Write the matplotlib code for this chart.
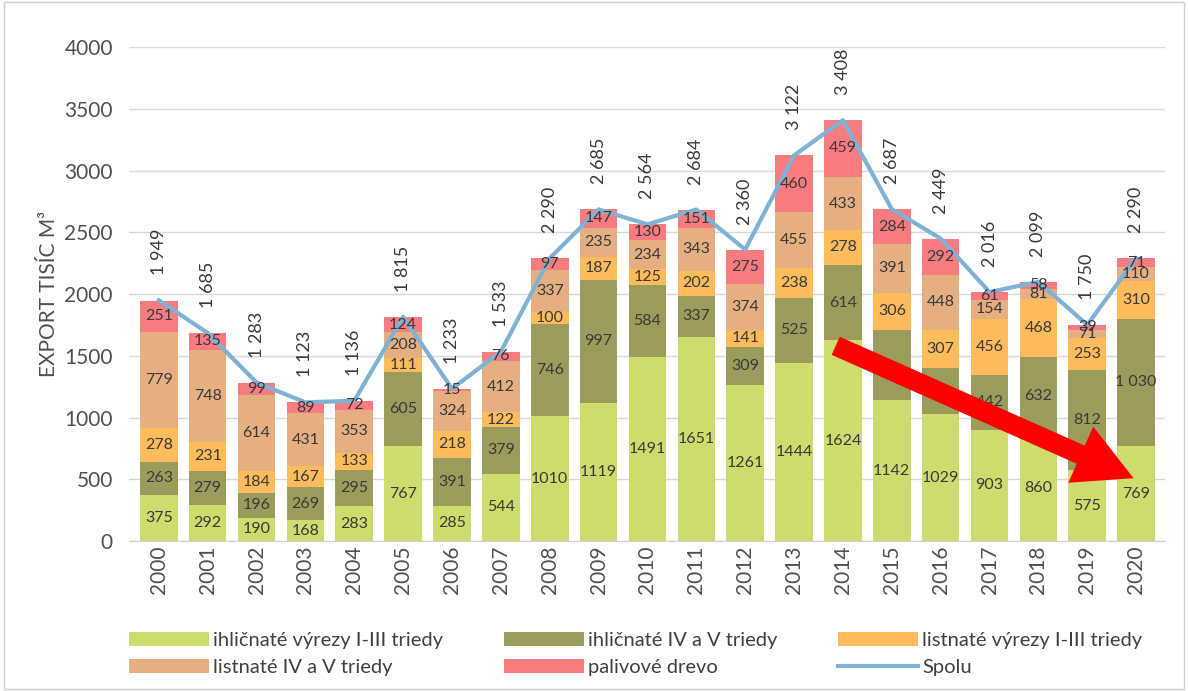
import numpy as np
import matplotlib.pyplot as plt
from matplotlib.patches import Rectangle

plt.rcParams['font.family'] = ['Lato', 'DejaVu Sans']

roky = ['2000', '2001', '2002', '2003', '2004', '2005', '2006', '2007', '2008', '2009', '2010',
        '2011', '2012', '2013', '2014', '2015', '2016', '2017', '2018', '2019', '2020']
ihl_vyrezy = [375, 292, 190, 168, 283, 767, 285, 544, 1010, 1119, 1491,
              1651, 1261, 1444, 1624, 1142, 1029, 903, 860, 575, 769]
ihl_4_5 = [263, 279, 196, 269, 295, 605, 391, 379, 746, 997, 584,
           337, 309, 525, 614, 564, 373, 442, 632, 812, 1030]
list_vyrezy = [278, 231, 184, 167, 133, 111, 218, 122, 100, 187, 125,
               202, 141, 238, 278, 306, 307, 456, 468, 253, 310]
list_4_5 = [779, 748, 614, 431, 353, 208, 324, 412, 337, 235, 234,
            343, 374, 455, 433, 391, 448, 154, 81, 71, 110]
palivo = [251, 135, 99, 89, 72, 124, 15, 76, 97, 147, 130,
          151, 275, 460, 459, 284, 292, 61, 58, 39, 71]
spolu = [1949, 1685, 1283, 1123, 1136, 1815, 1233, 1533, 2290, 2685, 2564,
         2684, 2360, 3122, 3408, 2687, 2449, 2016, 2099, 1750, 2290]
# olivove hodnoty 2015 a 2016 su v originali prekryte sipkou
skry_ihl_4_5 = [15, 16]

serie = [
    ('ihličnaté výrezy I-III triedy', ihl_vyrezy, '#CDDC6C'),
    ('ihličnaté IV a V triedy', ihl_4_5, '#9B9B5C'),
    ('listnaté výrezy I-III triedy', list_vyrezy, '#FDBB5B'),
    ('listnaté IV a V triedy', list_4_5, '#E6AF82'),
    ('palivové drevo', palivo, '#F77C80'),
]

fig = plt.figure(figsize=(11.88, 6.91), dpi=100)
ax = fig.add_axes([0.109, 0.217, 0.872, 0.715])
x = np.arange(len(roky))
txt = '#3a3a3a'

def fmt(v):
    return f'{v:,}'.replace(',', ' ')

bottom = np.zeros(len(roky))
handles = {}
for k, (nazov, hodnoty, farba) in enumerate(serie):
    h = ax.bar(x, hodnoty, 0.77, bottom=bottom, color=farba, label=nazov, zorder=2)
    handles[nazov] = h
    for i, v in enumerate(hodnoty):
        if k == 1 and i in skry_ihl_4_5:
            continue
        s = fmt(v) if k == 1 else str(v)
        ax.text(x[i], bottom[i] + v / 2, s, ha='center', va='center',
                fontsize=11.5, color=txt, zorder=4)
    bottom += np.array(hodnoty)

line, = ax.plot(x, spolu, color='#7FB2D5', lw=3, label='Spolu', zorder=3)

for i, v in enumerate(spolu):
    top = max(v, bottom[i])
    ax.annotate(fmt(v), (x[i], top), xytext=(0, 18),
                textcoords='offset points', rotation=90, ha='center', va='bottom',
                fontsize=13, color=txt, zorder=4)

ax.annotate('', xy=(20, 500), xytext=(13.8, 1590),
            arrowprops=dict(arrowstyle='simple,head_length=1.6,head_width=1.7,tail_width=0.55',
                            mutation_scale=26, color='#FF0000', lw=0), zorder=5)

ax.set_ylim(0, 4000)
ax.set_xlim(-0.6, len(roky) - 0.4)
ax.set_yticks(np.arange(0, 4001, 500))
ax.set_xticks(x)
ax.set_xticklabels(roky, rotation=90)
ax.tick_params(axis='both', length=0, labelsize=15, colors='#505050')
ax.tick_params(axis='y', pad=12)
ax.set_ylabel('EXPORT TISÍC M³', fontsize=15, color='#505050')
ax.grid(axis='y', color='#d9d9d9', lw=1, zorder=0)
ax.set_axisbelow(True)
for s in ['top', 'right', 'left']:
    ax.spines[s].set_visible(False)
ax.spines['bottom'].set_color('#d0d0d0')

order = [handles['ihličnaté výrezy I-III triedy'], handles['listnaté IV a V triedy'],
         handles['ihličnaté IV a V triedy'], handles['palivové drevo'],
         handles['listnaté výrezy I-III triedy'], line]
fig.legend(order, [h.get_label() for h in order], ncol=3, loc='lower center',
           bbox_to_anchor=(0.535, -0.005), frameon=False, fontsize=14.5, handlelength=4.0,
           columnspacing=3.0, labelcolor='#404040', handletextpad=0.2)

fig.patches.append(Rectangle((0.003, 0.003), 0.994, 0.994, transform=fig.transFigure,
                             fill=False, edgecolor='#d0d0d0', lw=1))

fig.savefig('out.png', dpi=100)
